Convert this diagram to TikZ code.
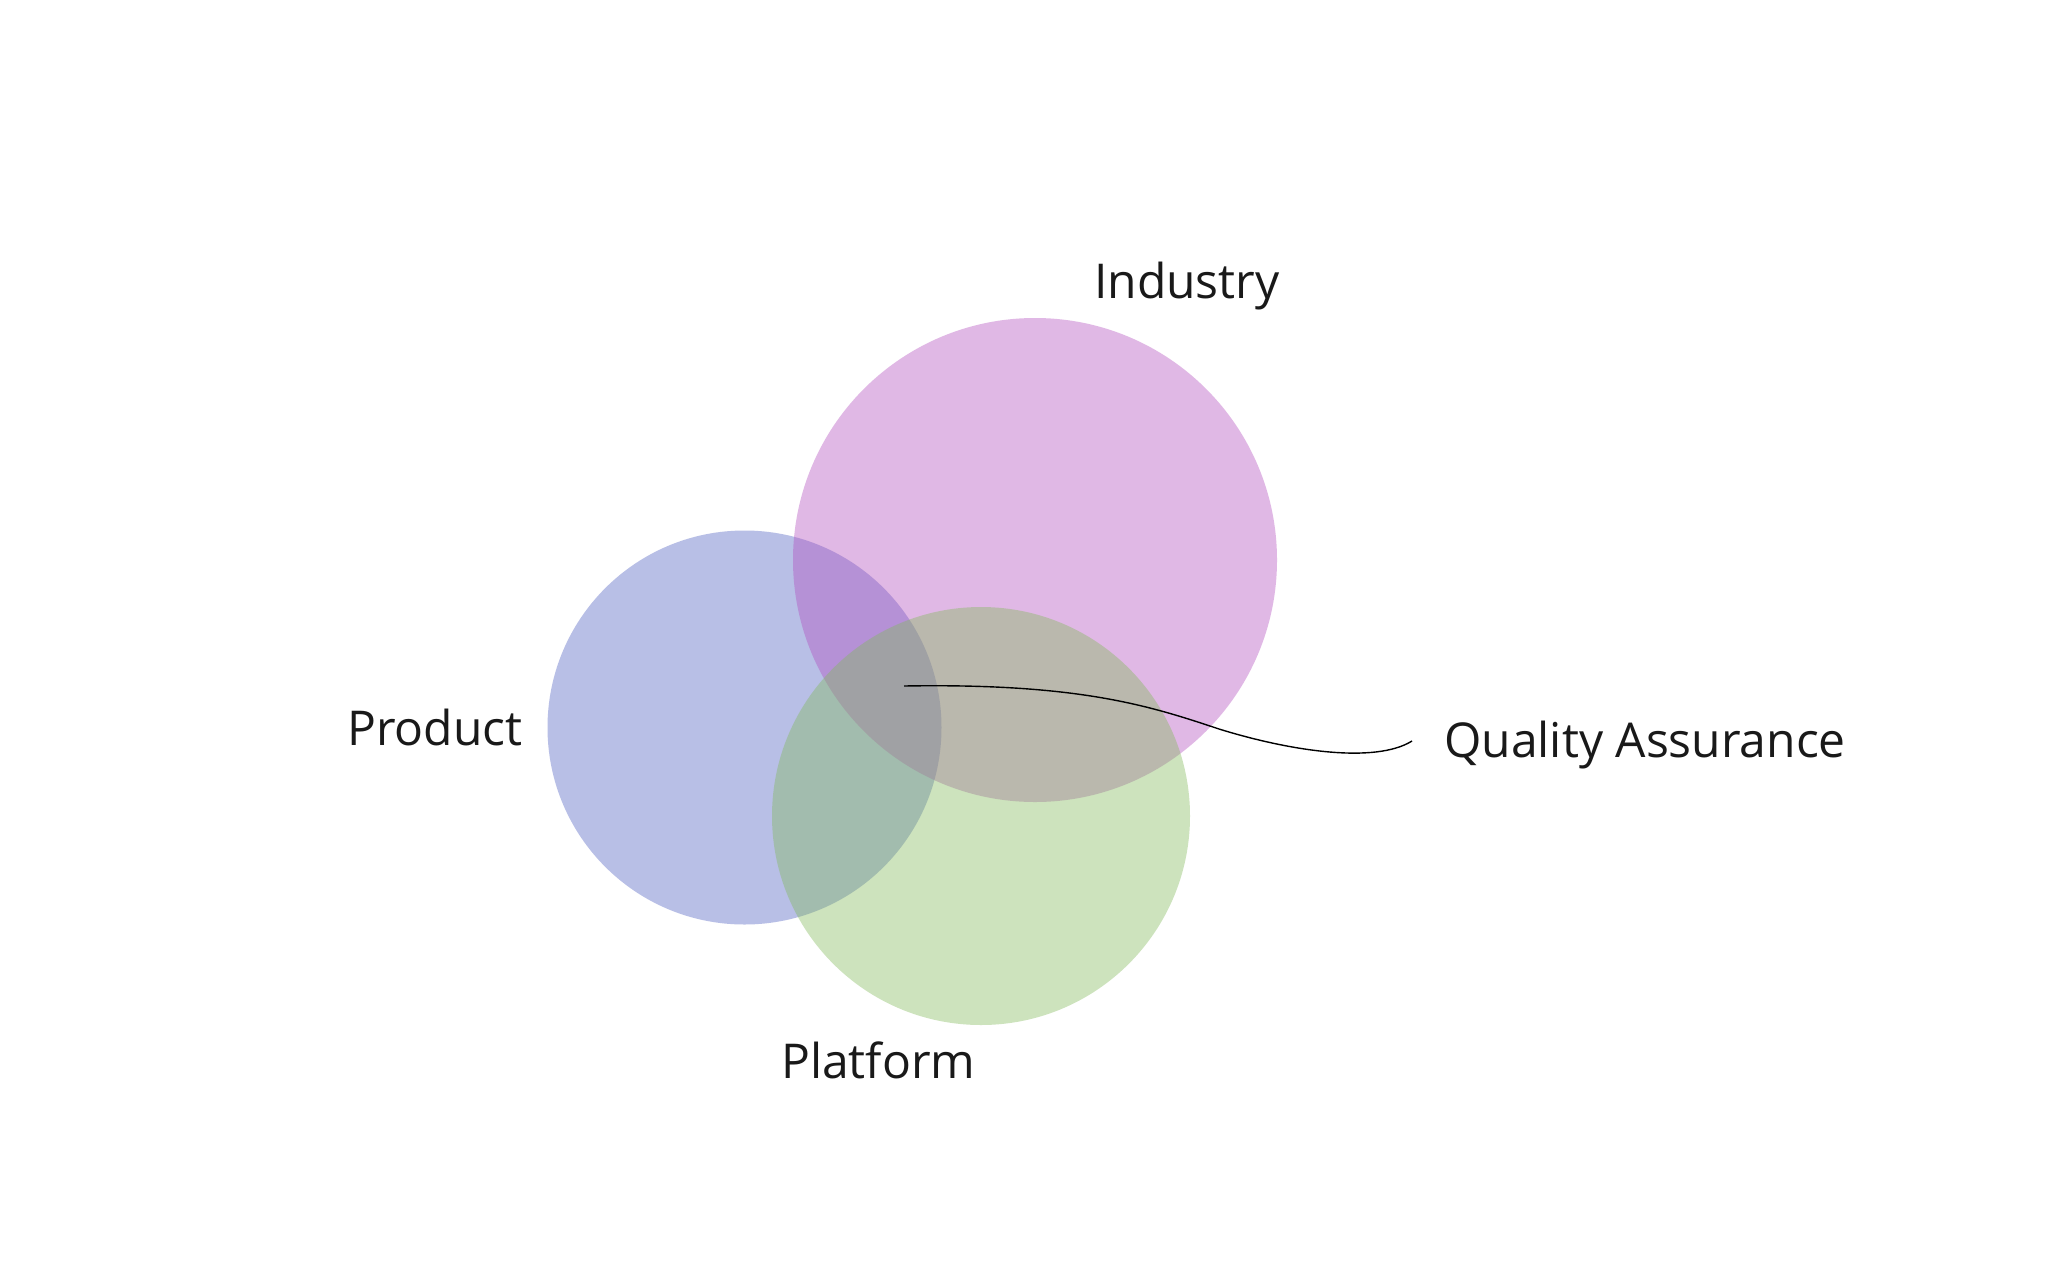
\documentclass[tikz,border=0pt]{standalone}
\usepackage{fontspec}
\setmainfont{Open Sans}
\definecolor{cpink}{RGB}{178,78,190}
\definecolor{cblue}{RGB}{78,95,193}
\definecolor{cgreen}{RGB}{130,185,90}
\begin{document}
\begin{tikzpicture}[x=1pt,y=-1pt,
  venn/.style={fill opacity=0.4},
  lbl/.style={anchor=base west,inner sep=0pt,text=black!90,font=\fontsize{48}{57}\selectfont},
  leader/.style={line width=1.4pt,black}]
\fill[white] (0,0) rectangle (2048,1280);
\useasboundingbox (0,0) rectangle (2048,1280);
% circles: blue, pink, green (green on top)
\fill[cblue,venn] (744.5,727.5) circle[radius=197];
\fill[cpink,venn] (1035,560) circle[radius=242];
\fill[cgreen,venn] (981,816) circle[radius=209];
% labels
\node[lbl] (industry) at (1094,298) {Industry};
\node[lbl] (product) at (347,745) {Product};
\node[lbl] (platform) at (781,1078) {Platform};
\node[lbl] (qa) at (1444,757) {Quality Assurance};
% leader
\coordinate (qastart) at (904,686);
\coordinate (qamid) at (1219,729);
\coordinate (qaend) at (1412,741);
\draw[leader] (qastart) .. controls (1080,683) and (1150,706) .. (qamid)
  .. controls (1290,751) and (1375,764) .. (qaend);
\end{tikzpicture}
\end{document}
